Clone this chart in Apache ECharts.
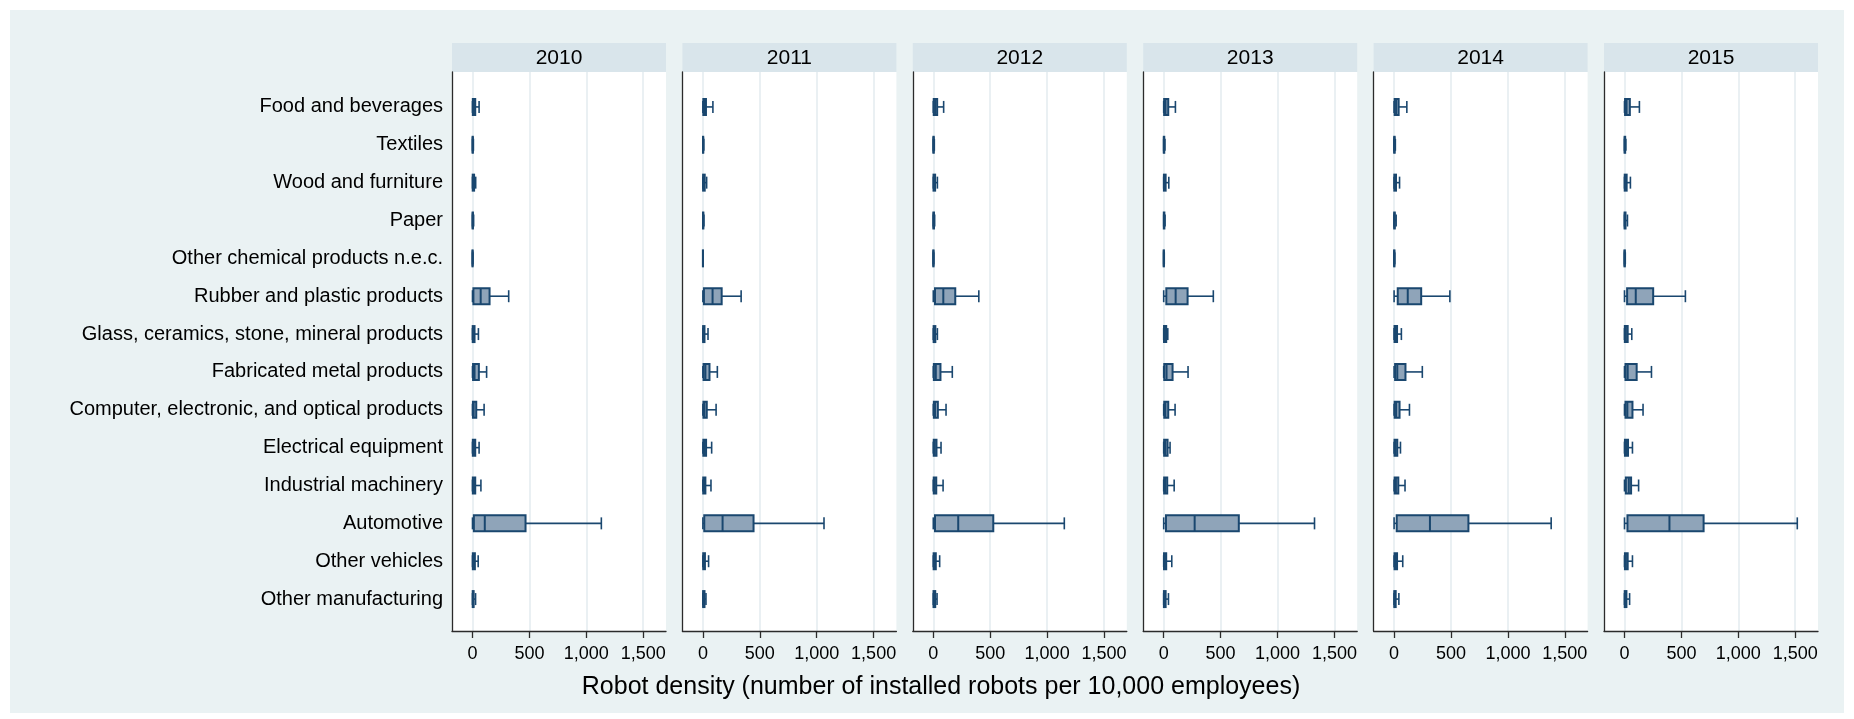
<!DOCTYPE html>
<html>
<head>
<meta charset="utf-8">
<title>Robot density by industry, 2010-2015</title>
<script src="https://cdn.jsdelivr.net/npm/echarts@6.0.0/dist/echarts.min.js"></script>
<style>
  html, body { margin: 0; padding: 0; background: #ffffff; }
  #chart { width: 1854px; height: 719px; }
</style>
</head>
<body>
<div id="chart"></div>
<script>
// ---- data ----
const years = ['2010', '2011', '2012', '2013', '2014', '2015'];
const industries = [
  'Food and beverages',
  'Textiles',
  'Wood and furniture',
  'Paper',
  'Other chemical products n.e.c.',
  'Rubber and plastic products',
  'Glass, ceramics, stone, mineral products',
  'Fabricated metal products',
  'Computer, electronic, and optical products',
  'Electrical equipment',
  'Industrial machinery',
  'Automotive',
  'Other vehicles',
  'Other manufacturing'
];
const xTicks = [0, 500, 1000, 1500];
const axisTitle = 'Robot density (number of installed robots per 10,000 employees)';

// per industry: [lower whisker, Q1, median, Q3, upper whisker]
const density2010 = [
  [0, 3, 12, 24, 58], [0, 1, 2, 3, 8], [0, 2, 6, 14, 28], [0, 1, 2, 4, 10],
  [0, 0, 1, 1, 3], [0, 8, 72, 150, 318], [0, 2, 8, 18, 52], [0, 5, 18, 56, 124],
  [0, 4, 10, 33, 102], [0, 3, 12, 24, 58], [0, 3, 12, 24, 74], [0, 12, 108, 466, 1132],
  [0, 3, 10, 21, 50], [0, 2, 5, 10, 27]
];
const density2011 = [
  [0, 4, 14, 27, 88], [0, 1, 2, 3, 8], [0, 2, 7, 16, 33], [0, 1, 2, 4, 9],
  [0, 0, 1, 1, 3], [0, 9, 85, 165, 336], [0, 2, 7, 14, 45], [0, 6, 22, 58, 127],
  [0, 5, 13, 34, 116], [0, 4, 13, 28, 77], [0, 3, 11, 22, 71], [0, 12, 173, 445, 1064],
  [0, 3, 9, 18, 50], [0, 2, 6, 14, 27]
];
const density2012 = [
  [0, 4, 16, 34, 91], [0, 1, 2, 4, 9], [0, 2, 7, 16, 36], [0, 1, 3, 6, 12],
  [0, 0, 1, 2, 4], [0, 15, 88, 193, 400], [0, 3, 9, 18, 36], [0, 5, 22, 63, 167],
  [0, 5, 15, 40, 112], [0, 4, 13, 28, 68], [0, 4, 12, 26, 86], [0, 15, 219, 527, 1151],
  [0, 3, 10, 22, 56], [0, 2, 7, 17, 33]
];
const density2013 = [
  [0, 4, 16, 40, 103], [0, 1, 2, 5, 11], [0, 2, 8, 17, 45], [0, 1, 3, 6, 12],
  [0, 0, 1, 2, 5], [0, 23, 105, 210, 436], [0, 3, 10, 22, 36], [0, 5, 25, 78, 214],
  [0, 5, 15, 40, 100], [0, 4, 14, 34, 56], [0, 4, 13, 31, 92], [0, 20, 272, 660, 1325],
  [0, 3, 10, 22, 71], [0, 2, 7, 17, 42]
];
const density2014 = [
  [0, 5, 18, 40, 112], [0, 1, 2, 5, 11], [0, 2, 8, 17, 48], [0, 1, 3, 6, 18],
  [0, 0, 1, 3, 6], [0, 32, 120, 238, 490], [0, 4, 12, 26, 64], [0, 9, 28, 100, 248],
  [0, 5, 18, 48, 135], [0, 4, 13, 28, 56], [0, 5, 16, 37, 96], [0, 23, 315, 653, 1380],
  [0, 4, 12, 26, 76], [0, 2, 6, 14, 42]
];
const density2015 = [
  [0, 5, 18, 47, 131], [0, 1, 3, 6, 12], [0, 2, 8, 19, 52], [0, 1, 3, 9, 26],
  [0, 0, 1, 3, 7], [0, 23, 99, 252, 535], [0, 3, 12, 28, 64], [0, 9, 28, 107, 237],
  [0, 9, 25, 70, 163], [0, 4, 14, 31, 70], [0, 12, 38, 58, 124], [0, 26, 395, 695, 1518],
  [0, 4, 12, 28, 70], [0, 2, 7, 17, 45]
];
const densityByYear = [density2010, density2011, density2012, density2013, density2014, density2015];

// ---- layout & style ----
const FONT = '"Liberation Sans", Arial, Helvetica, sans-serif';
const PANEL_LEFT0 = 452, PANEL_STEP = 230.4, PANEL_W = 214;
const FRAME_TOP = 72, FRAME_H = 559;      // white plot area
const DATA_TOP = 88, DATA_H = 530;        // category band area
const HEADER_TOP = 43, HEADER_H = 29;
const X_MIN = -180, X_MAX = 1700;
const NAVY = '#1a476f';
const BOX_FILL = '#8fa4b9';
const GRID_LINE = '#e3ebef';
const AXIS_INK = '#2b2b2b';

function renderBox(params, api) {
  const k = api.value(0);
  const xs = [1, 2, 3, 4, 5].map(d => api.coord([api.value(d), k])[0]);
  const yc = api.coord([0, k])[1];
  const boxH = 16, capH = 12;
  const thin = { stroke: NAVY, lineWidth: 1.6, fill: null };
  return {
    type: 'group',
    children: [
      { type: 'line', shape: { x1: xs[0], y1: yc, x2: xs[1], y2: yc }, style: thin },
      { type: 'line', shape: { x1: xs[3], y1: yc, x2: xs[4], y2: yc }, style: thin },
      { type: 'line', shape: { x1: xs[0], y1: yc - capH / 2, x2: xs[0], y2: yc + capH / 2 }, style: thin },
      { type: 'line', shape: { x1: xs[4], y1: yc - capH / 2, x2: xs[4], y2: yc + capH / 2 }, style: thin },
      { type: 'rect', shape: { x: xs[1], y: yc - boxH / 2, width: xs[3] - xs[1], height: boxH },
        style: { fill: BOX_FILL, stroke: NAVY, lineWidth: 2 } },
      { type: 'line', shape: { x1: xs[2], y1: yc - boxH / 2, x2: xs[2], y2: yc + boxH / 2 },
        style: { stroke: NAVY, lineWidth: 2 } }
    ]
  };
}

const grids = [], xAxes = [], yAxes = [], series = [], graphics = [];

graphics.push({
  type: 'rect', z: -100, silent: true,
  shape: { x: 10, y: 10, width: 1834, height: 703 },
  style: { fill: '#eaf2f3' }
});

years.forEach((year, i) => {
  const left = PANEL_LEFT0 + PANEL_STEP * i;

  // frame grid: white plot area, value axis with ticks, gridlines, left axis line
  grids.push({ left: left, top: FRAME_TOP, width: PANEL_W, height: FRAME_H,
    show: true, backgroundColor: '#ffffff', borderWidth: 0 });
  xAxes.push({
    type: 'value', gridIndex: 2 * i, min: X_MIN, max: X_MAX,
    axisLine: { show: true, onZero: false, lineStyle: { color: AXIS_INK, width: 1.3 } },
    axisTick: { show: true, length: 7, customValues: xTicks, lineStyle: { color: AXIS_INK, width: 1.3 } },
    axisLabel: { show: true, customValues: xTicks, margin: 14, fontSize: 18, color: '#000',
      fontFamily: FONT, formatter: v => Number(v).toLocaleString('en-US') },
    splitLine: { show: true, lineStyle: { color: GRID_LINE, width: 1.5 } }
  });
  yAxes.push({
    type: 'value', gridIndex: 2 * i, min: 0, max: 1,
    axisLine: { show: true, onZero: false, lineStyle: { color: AXIS_INK, width: 1.3 } },
    axisTick: { show: false }, axisLabel: { show: false }, splitLine: { show: false }
  });

  // data grid: category rows for the industries
  grids.push({ left: left, top: DATA_TOP, width: PANEL_W, height: DATA_H, show: false });
  xAxes.push({ type: 'value', gridIndex: 2 * i + 1, min: X_MIN, max: X_MAX, show: false });
  yAxes.push({
    type: 'category', gridIndex: 2 * i + 1, data: industries, inverse: true,
    axisLine: { show: false }, axisTick: { show: false }, splitLine: { show: false },
    axisLabel: { show: i === 0, margin: 9, fontSize: 20, color: '#000', fontFamily: FONT, interval: 0 }
  });

  series.push({
    type: 'custom', name: year, coordinateSystem: 'cartesian2d',
    xAxisIndex: 2 * i + 1, yAxisIndex: 2 * i + 1,
    data: densityByYear[i].map((s, k) => [k].concat(s)),
    encode: { x: [1, 2, 3, 4, 5], y: 0 },
    renderItem: renderBox
  });

  // panel header strip
  graphics.push({ type: 'rect', silent: true,
    shape: { x: left, y: HEADER_TOP, width: PANEL_W, height: HEADER_H },
    style: { fill: '#d9e5eb' } });
  graphics.push({ type: 'text', silent: true, x: left + PANEL_W / 2, y: HEADER_TOP + HEADER_H / 2 + 1,
    style: { text: year, fontSize: 21, fontFamily: FONT, fill: '#000', align: 'center', verticalAlign: 'middle' } });
});

graphics.push({ type: 'text', silent: true, x: 941, y: 687,
  style: { text: axisTitle, fontSize: 25, fontFamily: FONT, fill: '#000', align: 'center', verticalAlign: 'middle' } });

const chart = echarts.init(document.getElementById('chart'), null, { renderer: 'canvas' });
chart.setOption({
  backgroundColor: '#ffffff',
  animation: false,
  grid: grids,
  xAxis: xAxes,
  yAxis: yAxes,
  series: series,
  graphic: { elements: graphics }
});
</script>
</body>
</html>
